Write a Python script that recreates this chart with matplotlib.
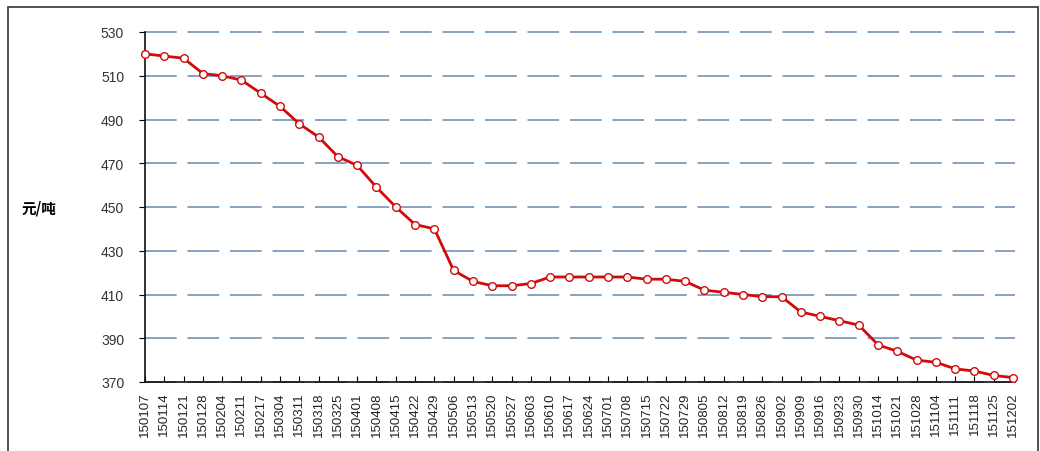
import matplotlib.pyplot as plt
from matplotlib.patches import Rectangle

dates = ['150107', '150114', '150121', '150128', '150204', '150211', '150217',
         '150304', '150311', '150318', '150325', '150401', '150408', '150415',
         '150422', '150429', '150506', '150513', '150520', '150527', '150603',
         '150610', '150617', '150624', '150701', '150708', '150715', '150722',
         '150729', '150805', '150812', '150819', '150826', '150902', '150909',
         '150916', '150923', '150930', '151014', '151021', '151028', '151104',
         '151111', '151118', '151125', '151202']
prices = [520, 519, 518, 511, 510, 508, 502, 496, 488, 482, 473, 469, 459, 450,
          442, 440, 421, 416, 414, 414, 415, 418, 418, 418, 418, 418, 417, 417,
          416, 412, 411, 410, 409, 409, 402, 400, 398, 396, 387, 384, 380, 379,
          376, 375, 373, 372]
yticks = [370, 390, 410, 430, 450, 470, 490, 510, 530]
unit_label = '元/吨'

plt.rcParams['font.family'] = ['Liberation Sans', 'DejaVu Sans']

fig = plt.figure(figsize=(10.4, 4.52), dpi=100)
ax = fig.add_axes([145 / 1040, 1 - 383 / 452, 870 / 1040, 350 / 452])

x = list(range(len(dates)))
ax.plot(x, prices, color='#d10a0a', lw=2, marker='o', markersize=5.5,
        markerfacecolor='white', markeredgecolor='#d10a0a', markeredgewidth=1,
        zorder=3, clip_on=False)

ax.set_xlim(0, len(dates) - 0.9)
ax.set_ylim(370, 530)
ax.set_yticks(yticks)
ax.set_xticks(x)
ax.set_xticklabels(dates, rotation=90, fontsize=9.5, color='#222222')
ax.tick_params(axis='x', direction='in', length=4, pad=7)
ax.tick_params(axis='y', direction='out', length=4, pad=11, labelsize=10,
               labelcolor='#333333')

ax.yaxis.grid(True, color='#7393b8', lw=1.2, linestyle=(0, (19, 6.5)))
for gl in ax.get_ygridlines():
    gl.set_clip_on(False)
ax.set_axisbelow(True)
for s in ['top', 'right']:
    ax.spines[s].set_visible(False)
for s in ['left', 'bottom']:
    ax.spines[s].set_color('#111111')
    ax.spines[s].set_linewidth(1.2)

fig.text(22 / 1040, 1 - 208 / 452, unit_label, ha='left', va='center',
         fontsize=10.5, fontweight='bold',
         family=['Noto Sans CJK SC', 'DejaVu Sans'])

# outer frame, bottom edge runs off the picture
fig.add_artist(Rectangle((8 / 1040, -0.05), 1030 / 1040, 1.05 - 8 / 452,
                         transform=fig.transFigure, fill=False,
                         edgecolor='#333333', lw=1.2))

fig.savefig('out.png', dpi=100)
